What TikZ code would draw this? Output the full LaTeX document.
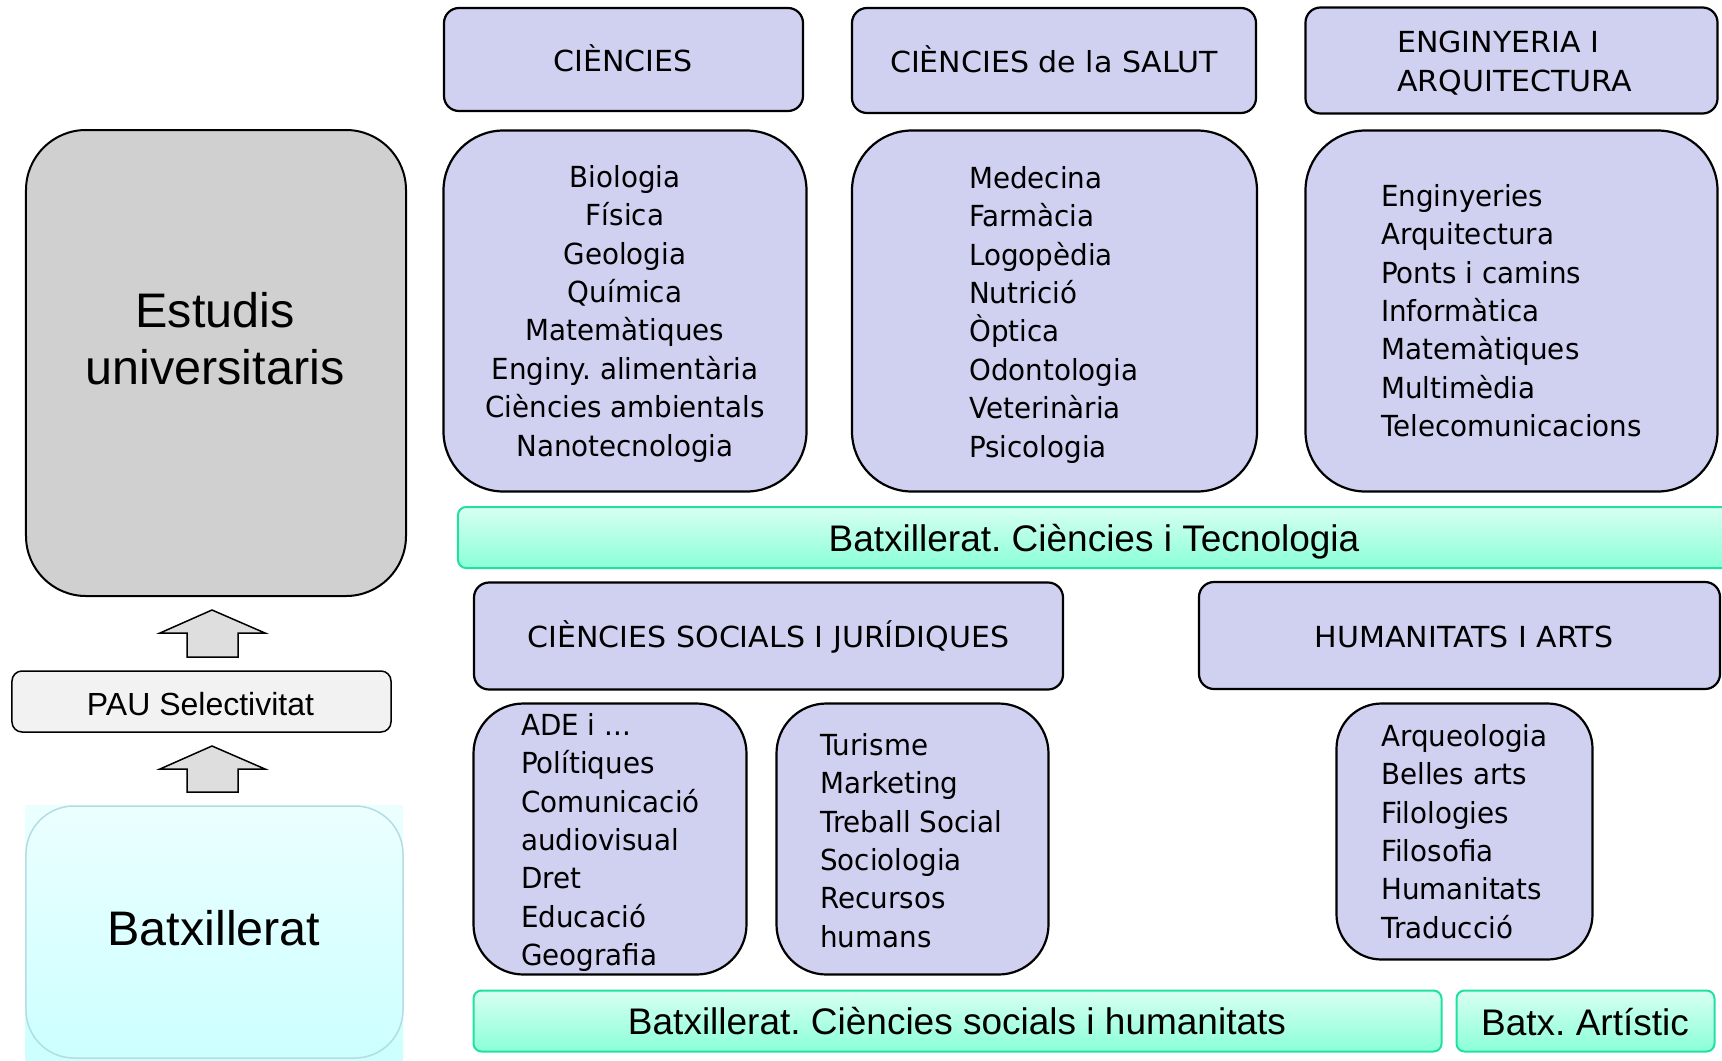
\documentclass[tikz,border=0pt]{standalone}
\usepackage{fontspec}
\newfontfamily\arialf{Liberation Sans}
\newfontfamily\tah{DejaVu Sans}[FakeStretch=0.957]
\newfontfamily\tahcaps{DejaVu Sans}[FakeStretch=1.036]
\frenchspacing
\definecolor{lav}{RGB}{208,208,240}
\definecolor{grayA}{RGB}{208,208,208}
\definecolor{arrowfill}{RGB}{222,222,222}
\definecolor{paufill}{RGB}{242,242,242}
\definecolor{cyanTop}{RGB}{236,255,255}
\definecolor{cyanBot}{RGB}{204,255,255}
\definecolor{cyanLine}{RGB}{180,220,226}
\definecolor{greenTop}{RGB}{216,255,242}
\definecolor{greenBot}{RGB}{138,255,216}
\definecolor{greenLine}{RGB}{34,224,162}
\newcommand{\fstrut}{\rule{0pt}{30bp}}
\newcommand{\astrut}{\rule{0pt}{45bp}}
\tikzset{
  lavbox/.style={draw=black, line width=2.2bp, fill=lav, inner sep=0pt},
  header/.style={lavbox, rounded corners=15bp},
  listbox/.style={lavbox, rounded corners=60bp},
  smallbox/.style={lavbox, rounded corners=50bp},
  tahtext/.style={inner sep=0pt, font=\tah\fontsize{29bp}{38.4bp}\selectfont},
  headtext/.style={inner sep=0pt, font=\tahcaps\fontsize{29bp}{39bp}\selectfont},
  bigtext/.style={inner sep=0pt, font=\arialf\fontsize{48.5bp}{57bp}\selectfont},
  bartext/.style={inner sep=0pt, font=\arialf\fontsize{37bp}{40bp}\selectfont},
  greenbar/.style={draw=greenLine, line width=2bp, top color=greenTop, bottom color=greenBot, rounded corners=8bp, inner sep=0pt},
  blockarrow/.style={draw=black, line width=1.5bp, fill=arrowfill},
}
\begin{document}
\begin{tikzpicture}[x=1bp,y=-1bp]
\useasboundingbox (0,0) rectangle (1722,1060);
\clip (0,0) rectangle (1722,1060);

% left column
\node[draw=black, line width=2bp, fill=grayA, rounded corners=60bp, minimum width=380bp, minimum height=466bp, inner sep=0pt] (est) at (216,363) {};
\node[bigtext, align=center, anchor=north] (estT) at (215,282) {\astrut Estudis\\universitaris};

\draw[blockarrow] (187,657) -- (187,633) -- (160,633) -- (212,610) -- (265,633) -- (238,633) -- (238,657) -- cycle;

\node[draw=black, line width=1.5bp, fill=paufill, rounded corners=10bp, minimum width=379bp, minimum height=61bp, inner sep=0pt] (pau) at (201.5,701.5) {};
\node[inner sep=0pt, font=\arialf\fontsize{32bp}{36bp}\selectfont, anchor=base] (pauT) at (200.5,715) {PAU Selectivitat};

\draw[blockarrow] (187,792) -- (187,769) -- (160,769) -- (212,746) -- (265,769) -- (238,769) -- (238,792) -- cycle;

\fill[top color=cyanTop, bottom color=cyanBot] (25,805) rectangle (403,1060);
\node[draw=cyanLine, line width=1.5bp, rounded corners=48bp, minimum width=377bp, minimum height=252bp, inner sep=0pt] (bat) at (214.5,932) {};
\node[bigtext, anchor=base] (batT) at (214,945) {Batxillerat};

% top headers
\node[header, minimum width=359bp, minimum height=103bp] (hC) at (623.5,59.5) {};
\node[headtext, anchor=base] (hCT) at (623,71) {CIÈNCIES};
\node[header, minimum width=404bp, minimum height=105bp] (hS) at (1054,60.5) {};
\node[headtext, anchor=base] (hST) at (1054,72) {CIÈNCIES de la SALUT};
\node[header, minimum width=412bp, minimum height=106bp] (hE) at (1511.5,60.5) {};
\node[headtext, align=left, anchor=north west] (hET) at (1397,22) {\fstrut ENGINYERIA I\\ARQUITECTURA};

% lists top
\node[listbox, minimum width=363bp, minimum height=361bp] (lC) at (625,311) {};
\node[tahtext, align=center, anchor=north] (lCT) at (625,157) {\fstrut Biologia\\Física\\Geologia\\Química\\Matemàtiques\\Enginy. alimentària\\Ciències ambientals\\Nanotecnologia};
\node[listbox, minimum width=405bp, minimum height=361bp] (lS) at (1054.5,311) {};
\node[tahtext, align=left, anchor=north west] (lST) at (969,158) {\fstrut Medecina\\Farmàcia\\Logopèdia\\Nutrició\\Òptica\\Odontologia\\Veterinària\\Psicologia};
\node[listbox, minimum width=412bp, minimum height=361bp] (lE) at (1511.5,311) {};
\node[tahtext, align=left, anchor=north west] (lET) at (1381,176) {\fstrut Enginyeries\\Arquitectura\\Ponts i camins\\Informàtica\\Matemàtiques\\Multimèdia\\Telecomunicacions};

% bar 1
\node[greenbar, minimum width=1274bp, minimum height=61bp] (bar1) at (1095,537.5) {};
\node[bartext, anchor=base] (bar1T) at (1094,551) {Batxillerat. Ciències i Tecnologia};

% middle headers
\node[header, minimum width=589bp, minimum height=107bp] (hJ) at (768.5,636) {};
\node[headtext, anchor=base] (hJT) at (768.5,647) {CIÈNCIES SOCIALS I JURÍDIQUES};
\node[header, minimum width=521bp, minimum height=107bp] (hH) at (1459.5,635.5) {};
\node[headtext, anchor=base] (hHT) at (1464,647) {HUMANITATS I ARTS};

% bottom lists
\node[smallbox, minimum width=273bp, minimum height=271bp] (lA) at (610,839) {};
\node[tahtext, align=left, anchor=north west] (lAT) at (521,705) {\fstrut ADE i ...\\Polítiques\\Comunicació\\audiovisual\\Dret\\Educació\\Geografia};
\node[smallbox, minimum width=272bp, minimum height=271bp] (lT) at (912.5,839) {};
\node[tahtext, align=left, anchor=north west] (lTT) at (820,725) {\fstrut Turisme\\Marketing\\Treball Social\\Sociologia\\Recursos\\humans};
\node[lavbox, rounded corners=45bp, minimum width=256bp, minimum height=256bp] (lH) at (1464.5,831.5) {};
\node[tahtext, align=left, anchor=north west] (lHT) at (1381,716) {\fstrut Arqueologia\\Belles arts\\Filologies\\Filosofia\\Humanitats\\Traducció};

% bottom bars
\node[greenbar, minimum width=968bp, minimum height=61bp] (bar2) at (957.5,1021) {};
\node[bartext, anchor=base] (bar2T) at (957,1034) {Batxillerat. Ciències socials i humanitats};
\node[greenbar, minimum width=258bp, minimum height=61bp] (bar3) at (1585.5,1021) {};
\node[bartext, anchor=base] (bar3T) at (1585,1035) {Batx. Artístic};
\end{tikzpicture}
\end{document}
